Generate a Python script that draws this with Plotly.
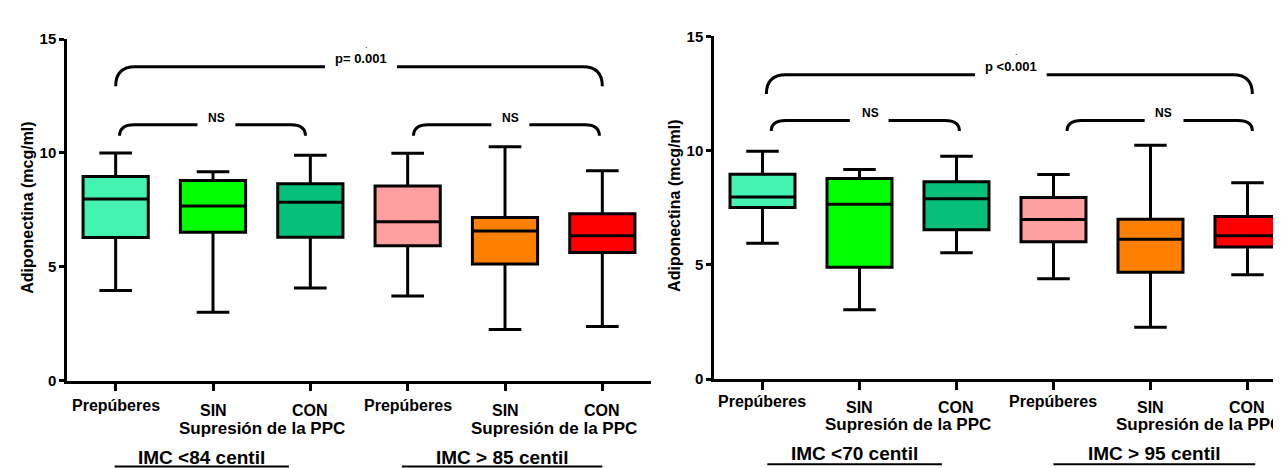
import plotly.graph_objects as go

W, H = 1281, 468

# ---------------- data ----------------
colors = ["#44F2B2", "#00FF00", "#06BF7B", "#FFA0A0", "#FF8000", "#FF0000"]

# Left panel (IMC <84 / >85 centil)
L_upper = [10.0, 9.17, 9.9, 9.99, 10.27, 9.22]
L_q3 = [8.96, 8.79, 8.65, 8.55, 7.16, 7.33]
L_med = [7.98, 7.67, 7.83, 6.98, 6.57, 6.36]
L_q1 = [6.29, 6.52, 6.30, 5.92, 5.12, 5.63]
L_lower = [3.96, 3.0, 4.07, 3.72, 2.24, 2.38]

# Right panel (IMC <70 / >95 centil)
R_upper = [9.97, 9.17, 9.76, 8.96, 10.24, 8.59]
R_q3 = [8.97, 8.78, 8.64, 7.95, 7.0, 7.12]
R_med = [7.97, 7.65, 7.89, 6.99, 6.12, 6.27]
R_q1 = [7.51, 4.89, 6.54, 6.01, 4.68, 5.78]
R_lower = [5.95, 3.03, 5.53, 4.39, 2.27, 4.57]

cat_top = ["Prepúberes", "SIN", "CON", "Prepúberes", "SIN", "CON"]
sub_label = "Supresión de la PPC"
L_groups = ["IMC <84 centil", "IMC > 85 centil"]
R_groups = ["IMC <70 centil", "IMC > 95 centil"]
L_ptext = "p= 0.001"
R_ptext = "p <0.001"
ns_text = "NS"
ytitle = "Adiponectina (mcg/ml)"

FONT = "Liberation Sans"

fig = go.Figure()


def add_boxes(q1, med, q3, lo, up, xa, ya):
    for i in range(6):
        fig.add_trace(go.Box(
            x=[i], q1=[q1[i]], median=[med[i]], q3=[q3[i]],
            lowerfence=[lo[i]], upperfence=[up[i]],
            width=0.67, whiskerwidth=0.5,
            fillcolor=colors[i], line=dict(color="black", width=3),
            boxpoints=False, xaxis=xa, yaxis=ya, showlegend=False,
            hoverinfo="skip",
        ))


add_boxes(L_q1, L_med, L_q3, L_lower, L_upper, "x", "y")
add_boxes(R_q1, R_med, R_q3, R_lower, R_upper, "x2", "y2")

shapes = []
annotations = []


def bracket(xr, yr, x0, x1, yh, yb, g0, g1, rx, text, tx, ty, size):
    p = (f"M {x0},{yb} Q {x0},{yh} {x0+rx},{yh} L {g0},{yh} "
         f"M {g1},{yh} L {x1-rx},{yh} Q {x1},{yh} {x1},{yb}")
    shapes.append(dict(type="path", path=p, xref=xr, yref=yr,
                       line=dict(color="black", width=3)))
    annotations.append(dict(text=text, x=tx, y=ty, xref=xr, yref=yr,
                            showarrow=False, yanchor="middle",
                            font=dict(family=FONT, size=size, color="black", weight="bold")))


# left panel brackets
bracket("x", "y", 0.0, 5.0, 13.78, 12.93, 2.15, 2.89, 0.2, L_ptext, 2.52, 14.13, 13)
bracket("x", "y", 0.04, 1.95, 11.24, 10.75, 0.84, 1.23, 0.15, ns_text, 1.04, 11.55, 12)
bracket("x", "y", 3.06, 4.97, 11.24, 10.75, 3.86, 4.25, 0.15, ns_text, 4.06, 11.55, 12)
annotations.append(dict(text=".", x=2.58, y=14.75, xref="x", yref="y", showarrow=False,
                        font=dict(family=FONT, size=9, color="black")))
# right panel brackets
bracket("x2", "y2", 0.04, 5.05, 13.32, 12.48, 2.19, 2.93, 0.2, R_ptext, 2.56, 13.67, 13)
bracket("x2", "y2", 0.09, 2.03, 11.32, 10.86, 0.90, 1.30, 0.15, ns_text, 1.11, 11.63, 12)
bracket("x2", "y2", 3.14, 5.05, 11.32, 10.86, 3.94, 4.34, 0.15, ns_text, 4.13, 11.63, 12)
annotations.append(dict(text=".", x=2.62, y=14.3, xref="x2", yref="y2", showarrow=False,
                        font=dict(family=FONT, size=9, color="black")))


def py(p):
    return 1 - p / H


def cat_labels(xr, y_top, y_sin, y_sub, groups, gx, gy, uline, uy):
    for i, t in enumerate(cat_top):
        yy = y_top if t == "Prepúberes" else y_sin
        annotations.append(dict(text=t, x=i, y=py(yy), xref=xr, yref="paper",
                                showarrow=False, yanchor="middle",
                                font=dict(family=FONT, size=16, color="black", weight="bold")))
    for cx in (1.5, 4.5):
        annotations.append(dict(text=sub_label, x=cx, y=py(y_sub), xref=xr, yref="paper",
                                showarrow=False, yanchor="middle",
                                font=dict(family=FONT, size=17, color="black", weight="bold")))
    for g, x in zip(groups, gx):
        annotations.append(dict(text=g, x=x, y=py(gy), xref=xr, yref="paper",
                                showarrow=False, yanchor="middle",
                                font=dict(family=FONT, size=19, color="black", weight="bold")))
    for (a, b) in uline:
        shapes.append(dict(type="line", x0=a, x1=b, y0=py(uy), y1=py(uy), xref=xr,
                           yref="paper", line=dict(color="black", width=2)))


cat_labels("x", 403, 408, 427, L_groups, [0.88, 3.97], 457, [(-0.01, 1.78), (2.94, 5.0)], 466.5)
cat_labels("x2", 399, 405, 423, R_groups, [0.95, 4.04], 453, [(0.05, 1.85), (3.0, 5.08)], 464)

# y titles
annotations.append(dict(text=ytitle, x=20 / W, y=py(198), xref="paper", yref="paper",
                        xanchor="center", yanchor="middle",
                        showarrow=False, textangle=-90,
                        font=dict(family=FONT, size=16, color="black", weight="bold")))
annotations.append(dict(text=ytitle, x=667 / W, y=py(196), xref="paper", yref="paper",
                        xanchor="center", yanchor="middle",
                        showarrow=False, textangle=-90,
                        font=dict(family=FONT, size=16, color="black", weight="bold")))

xcommon = dict(showgrid=False, zeroline=False, showline=True, linecolor="black", linewidth=2.5,
               ticks="outside", ticklen=8, tickwidth=2.5, tickcolor="black",
               tickvals=[0, 1, 2, 3, 4, 5], showticklabels=False, fixedrange=True)
ycommon = dict(showgrid=False, zeroline=False, showline=True, linecolor="black", linewidth=2.5,
               ticks="outside", ticklen=5, tickwidth=2.5, tickcolor="black",
               tickvals=[0, 5, 10, 15], range=[0, 15],
               tickfont=dict(family=FONT, size=15, color="black", weight="bold"))

fig.update_layout(
    width=W, height=H, margin=dict(l=0, r=0, t=0, b=0),
    paper_bgcolor="white", plot_bgcolor="white",
    xaxis=dict(domain=[59 / W, 643 / W], range=[-0.5, 5.5], anchor="y", **xcommon),
    yaxis=dict(domain=[py(377.3), py(22.9)], anchor="x", **ycommon),
    xaxis2=dict(domain=[706 / W, 1.0], range=[-0.5, 5.428], anchor="y2", **xcommon),
    yaxis2=dict(domain=[py(375.7), py(20.2)], anchor="x2", **ycommon),
    shapes=shapes, annotations=annotations, showlegend=False,
)

fig.write_html("out.html")
